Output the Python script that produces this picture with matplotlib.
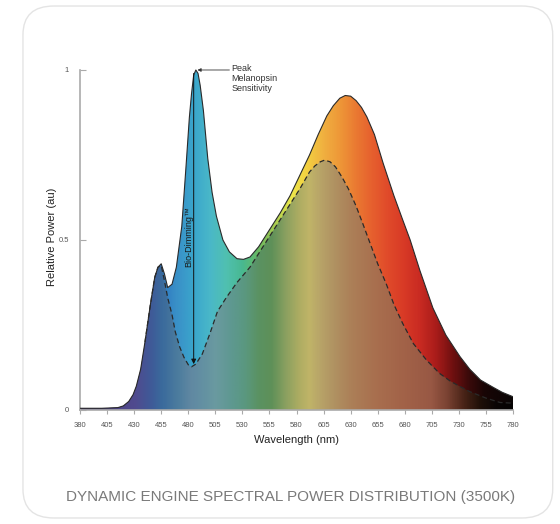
import numpy as np
import matplotlib
matplotlib.use('Agg')
from matplotlib import pyplot as plt
from matplotlib.colors import LinearSegmentedColormap
from matplotlib.patches import FancyBboxPatch

plt.rcParams['font.family'] = ['Liberation Sans', 'DejaVu Sans']

# full spectrum (solid outline)
wl_full = [380, 400, 415, 420, 425, 429, 432, 436, 440, 445, 449, 452, 455, 458,
           461, 465, 469, 474, 478, 481, 483, 485, 487, 489, 491, 494, 498, 502,
           506, 512, 518, 525, 531, 537, 545, 553, 565, 574, 583, 592, 600, 608,
           614, 620, 625, 630, 635, 640, 645, 652, 660, 670, 678, 685, 694, 706,
           718, 731, 740, 750, 762, 770, 780]
pow_full = [0.005, 0.005, 0.007, 0.012, 0.025, 0.045, 0.07, 0.12, 0.2, 0.31, 0.39,
            0.42, 0.43, 0.40, 0.36, 0.37, 0.42, 0.54, 0.72, 0.86, 0.93, 0.985, 1.0,
            0.99, 0.955, 0.88, 0.74, 0.64, 0.57, 0.5, 0.465, 0.445, 0.443, 0.45,
            0.48, 0.52, 0.58, 0.63, 0.69, 0.75, 0.81, 0.865, 0.895, 0.917, 0.925,
            0.923, 0.91, 0.89, 0.862, 0.81, 0.726, 0.63, 0.56, 0.5, 0.41, 0.30,
            0.22, 0.157, 0.12, 0.088, 0.066, 0.052, 0.039]

# bio-dimmed spectrum (dashed outline)
wl_dim = [380, 400, 415, 420, 425, 429, 432, 436, 440, 445, 449, 452, 455, 458,
          461, 465, 468, 472, 476, 480, 483, 487, 493, 500, 507, 515, 525, 537,
          545, 553, 560, 567, 575, 583, 592, 597, 602, 606, 611, 616, 622, 628,
          635, 641, 648, 655, 663, 670, 678, 688, 700, 712, 722, 731, 740, 755,
          768, 780]
pow_dim = [0.005, 0.005, 0.007, 0.012, 0.025, 0.045, 0.07, 0.12, 0.2, 0.31, 0.39,
           0.42, 0.425, 0.38, 0.33, 0.28, 0.23, 0.186, 0.155, 0.133, 0.127, 0.135,
           0.165, 0.225, 0.29, 0.33, 0.375, 0.42, 0.46, 0.5, 0.535, 0.57, 0.61,
           0.65, 0.7, 0.718, 0.73, 0.735, 0.73, 0.715, 0.685, 0.65, 0.6, 0.55,
           0.49, 0.43, 0.37, 0.31, 0.255, 0.195, 0.147, 0.108, 0.085, 0.069,
           0.054, 0.035, 0.022, 0.02]

xticks = list(range(380, 781, 25))
yticks = [0, 0.5, 1]
ytick_labels = ['0', '0.5', '1']

# colour stops (wavelength, colour)
bright_stops = [(380, '#3a2a70'), (430, '#4a4a9a'), (445, '#3a5aa8'), (455, '#2f78c0'),
                (470, '#3a92c8'), (485, '#3aa6cc'), (500, '#4ab8c8'), (515, '#50c0b0'),
                (530, '#48b890'), (545, '#6ab860'), (560, '#a8cc50'), (575, '#ece84c'),
                (590, '#f4d040'), (605, '#f0b040'), (620, '#ee9838'), (635, '#ea7a32'),
                (650, '#e6602e'), (665, '#e04a2a'), (680, '#d83a26'), (695, '#c82a22'),
                (710, '#a81c1a'), (725, '#701010'), (740, '#3a0a0a'), (755, '#180505'),
                (780, '#0a0505')]
muted_stops = [(380, '#4a3a80'), (430, '#504a8e'), (445, '#3f5a98'), (455, '#3a6a9c'),
               (470, '#4c7c9e'), (482, '#6088a2'), (495, '#6492a2'), (505, '#6a9aa0'),
               (520, '#5e9890'), (532, '#5a9880'), (545, '#5a9262'), (557, '#5e9058'),
               (570, '#8aa060'), (582, '#acac62'), (592, '#c0b468'), (602, '#b8a468'),
               (615, '#b09262'), (630, '#ac8058'), (655, '#a86e4e'), (680, '#a26248'),
               (705, '#985844'), (720, '#7a4232'), (735, '#4a2418'), (750, '#201008'),
               (765, '#0a0505'), (780, '#050303')]


def make_cmap(name, stops):
    lo, hi = stops[0][0], stops[-1][0]
    return LinearSegmentedColormap.from_list(
        name, [((w - lo) / (hi - lo), c) for w, c in stops])


bright_cmap = make_cmap('bright', bright_stops)
muted_cmap = make_cmap('muted', muted_stops)

fig = plt.figure(figsize=(5.6, 5.24), dpi=100)
fig.patch.set_facecolor('white')

card = FancyBboxPatch((0.041, 0.0115), 0.946, 0.977, transform=fig.transFigure,
                      boxstyle='round,pad=0,rounding_size=0.055',
                      facecolor='white', edgecolor='#e4e4e4', lw=1.0, zorder=-10)
fig.patches.append(card)

ax = fig.add_axes([0.1429, 0.2176, 0.7732, 0.6618])
ax.set_facecolor('none')

grad = np.linspace(380, 780, 800).reshape(1, -1)
extent = [380, 780, 0, 1.02]

poly_full = ax.fill_between(wl_full, 0, pow_full, facecolor='none', edgecolor='none')
im1 = ax.imshow(grad, cmap=bright_cmap, extent=extent, aspect='auto',
                origin='lower', zorder=1, interpolation='bilinear')
im1.set_clip_path(poly_full.get_paths()[0], transform=ax.transData)

poly_dim = ax.fill_between(wl_dim, 0, pow_dim, facecolor='none', edgecolor='none')
im2 = ax.imshow(grad, cmap=muted_cmap, extent=extent, aspect='auto',
                origin='lower', zorder=2, interpolation='bilinear')
im2.set_clip_path(poly_dim.get_paths()[0], transform=ax.transData)

ax.plot(wl_full, pow_full, color='#2a2a2a', lw=0.8, zorder=4)
ax.plot(wl_dim[8:], pow_dim[8:], color='#2a2a2a', lw=0.9, ls=(0, (4, 2.5)), zorder=5)

# Bio-Dimming arrow
ax.annotate('', xy=(485, 0.135), xytext=(485, 0.99),
            arrowprops=dict(arrowstyle='-|>', lw=0.7, color='#111',
                            mutation_scale=7, shrinkA=0, shrinkB=0), zorder=6)
ax.text(480.8, 0.51, 'Bio-Dimming™', rotation=90, ha='center', va='center',
        fontsize=6.5, color='#1a1a1a', zorder=6)

# peak label
ax.annotate('', xy=(488.5, 1.0), xytext=(518, 1.0),
            arrowprops=dict(arrowstyle='-|>', lw=0.6, color='#333',
                            mutation_scale=5, shrinkA=0, shrinkB=0), zorder=6)
ax.text(520, 1.017, 'Peak\nMelanopsin\nSensitivity', ha='left', va='top',
        fontsize=6.5, color='#333', linespacing=1.1)

ax.set_xlim(380, 780)
ax.set_ylim(0, 1.02)
ax.set_xticks(xticks)
ax.set_xticklabels([str(t) for t in xticks])
ax.set_yticks(yticks)
ax.set_yticklabels(ytick_labels)
for s in ['top', 'right']:
    ax.spines[s].set_visible(False)
for s in ['left', 'bottom']:
    ax.spines[s].set_color('#aaaaaa')
    ax.spines[s].set_linewidth(1.2)
ax.spines['left'].set_bounds(0, 1)
ax.tick_params(axis='x', direction='out', length=3, width=0.8, color='#aaaaaa',
               labelsize=5.5, labelcolor='#555555', pad=6)
ax.tick_params(axis='y', direction='in', length=4, width=0.8, color='#aaaaaa',
               labelsize=5.5, labelcolor='#555555', pad=8)

ax.set_xlabel('Wavelength (nm)', fontsize=8, color='#222222', labelpad=4)
ax.set_ylabel('Relative Power (au)', fontsize=8, color='#222222', labelpad=1)

fig.text(0.518, 1 - 497 / 524, 'DYNAMIC ENGINE SPECTRAL POWER DISTRIBUTION (3500K)',
         ha='center', va='center', fontsize=11, color='#7a7a7a')

fig.savefig('out.png', dpi=100)
